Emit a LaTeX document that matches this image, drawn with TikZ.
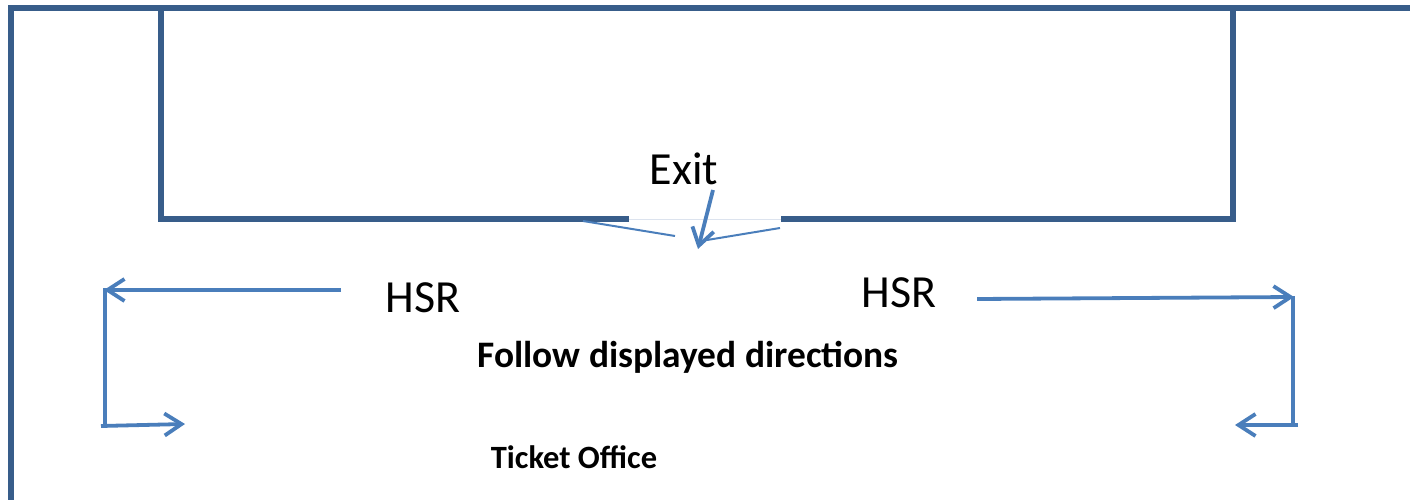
\documentclass[tikz,border=0pt]{standalone}
\usepackage{fontspec}
\setmainfont{Carlito}
\usetikzlibrary{arrows.meta}
\definecolor{wall}{HTML}{385D8A}
\definecolor{arr}{HTML}{4A7EBB}
\definecolor{gap}{HTML}{DCE3EE}
\tikzset{
  wallline/.style={draw=wall, line width=6pt},
  arrline/.style={draw=arr, line width=3.8pt, -{Straight Barb[length=17pt,width=22pt,line width=3.8pt]}},
  plainarr/.style={draw=arr, line width=3.8pt},
  thinline/.style={draw=arr, line width=2pt},
  bigtxt/.style={inner sep=0pt, font=\fontsize{46}{50}\selectfont},
  boldtxt/.style={inner sep=0pt, font=\bfseries\fontsize{37.4}{42}\selectfont},
  smalltxt/.style={inner sep=0pt, font=\bfseries\fontsize{32.5}{36}\selectfont}
}
\begin{document}
\begin{tikzpicture}[x=1pt,y=-1pt]
\useasboundingbox (0,0) rectangle (1410,500);
% outer wall
\coordinate (ow1) at (11,500);
\coordinate (ow2) at (11,8);
\coordinate (ow3) at (1410,8);
\draw[wallline, line join=miter] (ow1) -- (ow2) -- (ow3);
% inner box
\coordinate (b1) at (629,219);
\coordinate (b2) at (161,219);
\coordinate (b3) at (161,8);
\coordinate (b4) at (1233,8);
\coordinate (b5) at (1233,219);
\coordinate (b6) at (781,219);
\draw[wallline, line join=miter] (b1) -- (b2) -- (b3);
\draw[wallline, line join=miter] (b4) -- (b5) -- (b6);
\draw[draw=gap, line width=1pt] (b1) -- (b6);
% exit
\node[bigtxt] (exit) at (684,169) {Exit};
\coordinate (ea) at (713,190);
\coordinate (eb) at (698,249);
\draw[arrline] (ea) -- (eb);
\coordinate (l1) at (583,221);
\coordinate (l2) at (675,236);
\draw[thinline] (l1) -- (l2);
\coordinate (r1) at (780,228);
\coordinate (r2) at (707,240);
\draw[thinline] (r1) -- (r2);
% HSR labels
\node[bigtxt] (hsrL) at (423,298) {HSR};
\node[bigtxt] (hsrR) at (899,293) {HSR};
% left arrows
\coordinate (la) at (341,290);
\coordinate (lb) at (104,290);
\coordinate (lc) at (105,426);
\coordinate (ld) at (101,426);
\coordinate (le) at (185,424);
\draw[arrline] (la) -- (lb);
\draw[plainarr] (105,288) -- (lc);
\draw[arrline] (ld) -- (le);
% right arrows
\coordinate (ra) at (977,299);
\coordinate (rb) at (1294,297);
\coordinate (rc) at (1293,425);
\coordinate (rd) at (1298,425);
\coordinate (re) at (1235,425);
\draw[arrline] (ra) -- (rb);
\draw[plainarr] (1293,296) -- (rc);
\draw[arrline] (rd) -- (re);
% texts
\node[boldtxt] (follow) at (688,357) {Follow displayed directions};
\node[smalltxt] (ticket) at (574,457) {Ticket Office};
\end{tikzpicture}
\end{document}
